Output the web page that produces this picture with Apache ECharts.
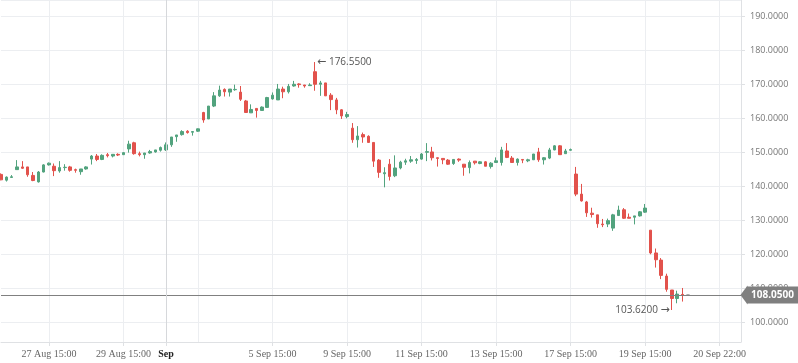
<!DOCTYPE html>
<html><head><meta charset="utf-8">
<script src="https://cdn.jsdelivr.net/npm/echarts@6/dist/echarts.min.js"></script>
<style>html,body{margin:0;padding:0;background:#fff}#c{width:798px;height:363px}</style>
</head><body><div id="c"></div>
<script>
// candle values (index = category slot)
var opens  = [143.5,141.8,142.6,144.9,145.7,145.7,143.2,141.3,144.2,146.3,145.9,144.5,145.5,145.7,144.9,144.3,145.1,148.0,148.9,147.9,149.3,148.9,149.4,149.3,151.0,152.8,149.6,149.3,149.8,150.1,150.6,150.7,152.2,154.6,155.2,156.2,155.9,156.2,161.7,159.8,163.6,166.6,168.5,167.7,168.4,167.7,165.1,161.6,162.9,162.3,163.2,165.7,165.4,168.6,167.8,169.5,170.1,169.8,169.6,173.7,170.0,170.4,166.8,165.4,162.5,160.5,157.1,153.7,155.2,154.7,152.9,147.7,143.7,146.5,143.1,145.4,147.1,147.4,147.6,148.0,150.0,150.1,148.4,148.2,147.7,146.7,148.0,146.5,145.5,147.4,146.7,147.2,145.8,147.0,147.0,150.4,148.3,147.0,147.9,147.5,147.8,150.1,147.8,148.3,150.7,151.9,149.6,150.6,143.6,137.7,135.4,132.1,131.6,128.9,128.9,127.7,131.4,133.1,130.9,130.9,131.3,132.4,127.1,120.4,118.3,113.6,109.5,107.0,108.2,108.05];
var closes = [141.9,142.7,142.8,145.7,145.3,143.4,141.7,144.2,146.3,146.8,144.6,145.5,145.6,144.7,144.7,145.1,145.7,148.9,147.9,149.1,149.0,149.4,149.2,149.9,152.4,149.6,149.3,149.8,150.2,150.7,151.4,152.2,154.5,155.1,156.1,155.8,156.1,156.9,159.5,163.6,166.6,168.3,167.8,168.6,168.5,165.6,161.7,162.6,162.3,163.3,166.1,166.8,168.6,167.8,169.4,170.0,169.9,169.5,169.8,170.0,170.4,166.6,165.5,162.5,160.7,161.1,153.7,154.8,154.5,152.9,147.4,144.1,144.0,142.9,145.4,147.1,147.5,147.8,147.9,149.5,150.2,148.4,148.2,147.8,146.5,147.9,147.7,145.6,147.0,146.9,147.2,145.9,146.8,147.5,150.7,148.5,147.0,148.0,147.7,147.8,149.5,147.8,148.4,150.7,151.9,149.3,150.4,150.8,137.7,135.7,132.2,131.7,129.0,128.7,129.9,131.6,133.0,130.6,130.6,131.3,132.5,133.6,120.4,118.4,113.8,109.7,107.0,108.3,108.0,108.05];
var lows   = [141.8,141.4,142.5,144.9,145.1,142.8,141.5,141.1,144.1,146.1,143.0,144.0,144.6,144.3,144.0,143.4,144.9,146.4,147.4,147.7,148.5,148.5,148.9,149.3,149.9,149.3,148.8,148.1,149.6,149.9,150.2,150.4,151.6,153.1,154.9,155.5,154.9,156.0,158.7,159.8,163.3,166.3,166.4,166.4,168.1,165.1,161.7,161.6,160.2,162.3,163.2,165.5,165.4,165.9,167.3,169.3,169.0,169.0,169.6,168.1,166.6,166.6,162.4,161.2,159.8,160.0,152.8,151.4,152.8,152.9,145.7,142.5,139.7,141.7,142.7,145.0,146.3,146.9,146.6,147.8,147.4,147.6,145.8,146.5,146.3,146.3,147.2,143.1,143.8,146.4,146.5,145.9,145.2,147.0,146.1,148.3,147.0,146.1,146.8,147.1,147.8,147.2,146.4,148.0,150.6,149.3,149.6,150.5,137.1,135.5,131.0,130.8,127.8,128.0,128.0,126.9,131.3,130.4,130.6,128.8,131.1,132.2,120.0,116.1,112.7,109.0,103.62,105.6,106.1,108.05];
var highs  = [143.8,142.9,143.3,147.7,147.4,145.7,144.2,144.5,146.5,147.0,146.7,147.4,146.5,146.0,145.2,145.1,145.9,149.2,149.5,149.4,149.8,149.4,149.7,150.0,153.4,153.1,150.2,149.8,150.7,150.7,151.7,152.9,154.5,155.1,156.5,156.5,156.2,157.0,161.9,163.6,167.7,169.6,168.8,168.6,169.9,169.5,165.4,164.1,162.9,163.5,166.3,167.6,170.1,169.3,170.1,171.0,170.3,169.8,170.3,176.55,171.0,170.4,167.4,166.0,162.7,161.9,158.6,157.7,155.8,155.0,152.9,148.0,145.6,148.0,149.1,147.5,148.1,148.9,148.3,149.8,152.7,151.6,148.5,148.2,148.0,147.9,148.2,146.5,147.6,147.4,147.4,147.4,147.1,148.5,151.6,152.7,148.9,148.2,147.9,148.1,149.5,151.3,148.6,151.3,152.1,152.1,151.0,151.1,145.7,140.7,135.7,133.7,131.6,130.4,130.5,131.9,134.3,133.6,132.0,131.3,132.7,134.8,127.1,121.7,118.9,114.3,109.5,109.3,110.1,108.05];
var slotCount = 140;
var labelIndex = [9,23,31,51,65,79,93,107,121,135];
var tickLabels = ['27 Aug 15:00','29 Aug 15:00','Sep','5 Sep 15:00','9 Sep 15:00','11 Sep 15:00','13 Sep 15:00','17 Sep 15:00','19 Sep 15:00','20 Sep 22:00'];
var extraGridIndex = [37];
var monthIndex = 31;
var lastPrice = 108.05;

var categories = [];
for (var i = 0; i < slotCount; i++) {
  var k = labelIndex.indexOf(i);
  categories.push(k >= 0 ? tickLabels[k] : ' ' + i);
}
var ohlc = opens.map(function (o, i) { return [o, closes[i], lows[i], highs[i]]; });
var tagColor = '#7f7f7f';

var chart = echarts.init(document.getElementById('c'));
chart.setOption({
  animation: false,
  backgroundColor: '#ffffff',
  grid: { left: 1, right: 57, top: 0, bottom: 21, containLabel: false },
  xAxis: {
    type: 'category', data: categories, boundaryGap: false,
    axisLine: { lineStyle: { color: '#dfe1e4' } },
    axisTick: { interval: function (i) { return labelIndex.indexOf(i) >= 0; }, length: 4, lineStyle: { color: '#dfe1e4' } },
    axisLabel: {
      interval: function (i) { return labelIndex.indexOf(i) >= 0; },
      color: '#666', fontFamily: 'Liberation Serif', fontSize: 10, margin: 7,
      formatter: function (v) { return v === 'Sep' ? '{b|Sep}' : v; },
      rich: { b: { fontWeight: 'bold', color: '#222', fontFamily: 'Liberation Serif', fontSize: 10 } }
    },
    splitLine: { show: true, interval: function (i) { return labelIndex.indexOf(i) >= 0 || extraGridIndex.indexOf(i) >= 0; }, lineStyle: { color: '#eceef1' } }
  },
  yAxis: {
    type: 'value', position: 'right', scale: true, min: 94.21, max: 194.79, splitNumber: 10,
    axisLine: { show: true, lineStyle: { color: '#dfe1e4' } },
    axisTick: { show: true, length: 4, lineStyle: { color: '#dfe1e4' } },
    axisLabel: { color: '#777', fontFamily: 'Open Sans', fontSize: 9, margin: 9, showMinLabel: false, showMaxLabel: false,
      formatter: function (v) { return v.toFixed(4); } },
    splitLine: { lineStyle: { color: '#eceef1' } }
  },
  series: [{
    type: 'candlestick', data: ohlc, barWidth: 3, clip: true,
    itemStyle: { color: '#52a37e', color0: '#e2524c', borderColor: '#52a37e', borderColor0: '#e2524c', borderColorDoji: '#9a9a9a', borderWidth: 1 },
    markLine: {
      silent: true, symbol: ['none', 'none'], animation: false,
      data: [
        { yAxis: lastPrice, lineStyle: { color: '#808080', width: 1, type: 'solid' },
          label: { show: true, position: 'end', formatter: lastPrice.toFixed(4), backgroundColor: tagColor, color: '#fff', fontWeight: 'bold', fontFamily: 'Open Sans', fontSize: 10, padding: [4, 10, 3, 4], distance: 6 } },
        { xAxis: monthIndex, lineStyle: { color: '#d6d8db', width: 1, type: 'solid' }, label: { show: false } }
      ]
    },
    markPoint: {
      symbol: 'circle', symbolSize: 0, animation: false, silent: true,
      data: [
        { type: 'max', valueDim: 'highest', label: { show: true, position: 'right', distance: 2, color: '#555', fontFamily: 'Open Sans', fontSize: 10,
            formatter: function (p) { return '{a|\u2190} ' + Number(p.value).toFixed(4); },
            rich: { a: { fontFamily: 'DejaVu Sans', fontSize: 11, color: '#555' } } } },
        { type: 'min', valueDim: 'lowest', label: { show: true, position: 'left', distance: 2, color: '#555', fontFamily: 'Open Sans', fontSize: 10,
            formatter: function (p) { return Number(p.value).toFixed(4) + ' {a|\u2192}'; },
            rich: { a: { fontFamily: 'DejaVu Sans', fontSize: 11, color: '#555' } } } },
        { coord: [slotCount - 1, lastPrice], symbol: 'triangle', symbolSize: [19, 7], symbolRotate: 90, symbolOffset: [3, 0],
          itemStyle: { color: tagColor }, label: { show: false } }
      ]
    }
  }]
});
</script></body></html>
